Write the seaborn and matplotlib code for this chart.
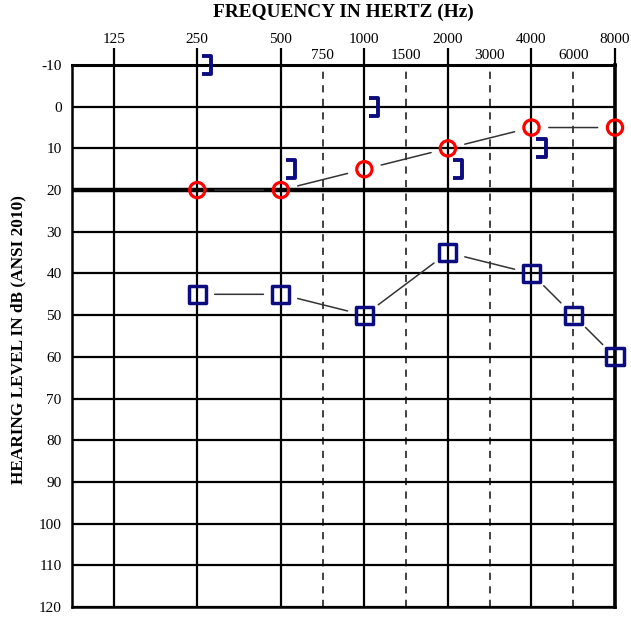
"""Audiogram: air and bone conduction thresholds."""

import matplotlib.pyplot as plt
import numpy as np
import pandas as pd
import seaborn as sns
from matplotlib.path import Path
from matplotlib.ticker import FixedLocator, NullFormatter

octave_freqs = [125, 250, 500, 1000, 2000, 4000, 8000]
mid_freqs = [750, 1500, 3000, 6000]
db_ticks = list(range(-10, 130, 10))

right_air_freq = [250, 500, 1000, 2000, 4000, 8000]
right_air_db = [20, 20, 15, 10, 5, 5]
left_air_freq = [250, 500, 1000, 2000, 4000, 6000, 8000]
left_air_db = [45, 45, 50, 35, 40, 50, 60]
bone_freq = [250, 500, 1000, 2000, 4000]
bone_db = [-10, 15, 0, 15, 10]

RED = "#ff0000"
NAVY = "#0c0c80"
LINK = "#333333"

sns.set_style("white")
plt.rcParams["font.family"] = ["Liberation Serif", "DejaVu Serif"]
plt.rcParams["axes.unicode_minus"] = False
plt.rcParams["text.color"] = "black"
plt.rcParams["xtick.color"] = "black"
plt.rcParams["ytick.color"] = "black"

# audiogram axis: octaves evenly spaced, inter-octave freqs drawn half way
knots = np.log2([62.5, 125, 250, 500, 750, 1000, 1500, 2000, 3000, 4000, 6000, 8000, 16000])
slots = np.array([-1, 0, 1, 2, 2.5, 3, 3.5, 4, 4.5, 5, 5.5, 6, 7])


def forward(f):
    return np.interp(np.log2(np.clip(f, 1e-9, None)), knots, slots)


def inverse(p):
    return 2 ** np.interp(p, slots, knots)


right_df = pd.DataFrame({"freq": right_air_freq, "db": right_air_db})
left_df = pd.DataFrame({"freq": left_air_freq, "db": left_air_db})
bone_df = pd.DataFrame({"freq": bone_freq, "db": bone_db})

fig = plt.figure(figsize=(6.31, 6.19), dpi=100)
ax = fig.add_axes([72 / 631, 1 - 607 / 619, (615 - 72) / 631, (607 - 65) / 619])
ax.set_xscale("function", functions=(forward, inverse))
ax.set_xlim(125 / 2 ** 0.5, 8000)
ax.set_ylim(120, -10)

# grid
ax.xaxis.set_major_locator(FixedLocator(octave_freqs))
ax.xaxis.set_minor_locator(FixedLocator(mid_freqs))
ax.xaxis.set_major_formatter(plt.FixedFormatter([str(f) for f in octave_freqs]))
ax.xaxis.set_minor_formatter(plt.FixedFormatter([str(f) for f in mid_freqs]))
ax.yaxis.set_major_locator(FixedLocator(db_ticks))
ax.yaxis.set_minor_formatter(NullFormatter())
ax.xaxis.set_ticks_position("top")
ax.xaxis.set_label_position("top")
ax.tick_params(axis="x", which="major", length=12, width=1.6, color="black",
               pad=1.5, labelsize=11, direction="out")
ax.tick_params(axis="x", which="minor", length=0, pad=2, labelsize=11)
ax.tick_params(axis="y", length=0, pad=7.5, labelsize=11)
ax.grid(axis="x", which="major", color="black", lw=1.6)
ax.grid(axis="x", which="minor", color="#333333", lw=1.3, ls=(0, (4, 3.5)))
ax.grid(axis="y", which="major", color="black", lw=1.6)
ax.axhline(20, color="black", lw=3.2, zorder=1)
ax.set_axisbelow(True)
for side, lw in {"top": 2.2, "left": 1.8, "right": 2.6, "bottom": 1.8}.items():
    ax.spines[side].set_visible(True)
    ax.spines[side].set_color("black")
    ax.spines[side].set_linewidth(lw)

# thin links between symbols, kept short of the markers
for df in (right_df, left_df):
    pts = list(zip(df["freq"], df["db"]))
    for (f1, d1), (f2, d2) in zip(pts[:-1], pts[1:]):
        ax.annotate("", xy=(f2, d2), xytext=(f1, d1),
                    arrowprops=dict(arrowstyle="-", color=LINK, lw=1.1,
                                    shrinkA=12.5, shrinkB=12.5))

# symbols
bracket = Path([(5, 9), (14, 9), (14, -9), (5, -9)],
               [Path.MOVETO, Path.LINETO, Path.LINETO, Path.LINETO])
sns.scatterplot(data=right_df, x="freq", y="db", ax=ax, marker="o", s=121,
                color=RED, facecolor="none", edgecolor=RED, linewidth=2.3, zorder=5)
sns.scatterplot(data=left_df, x="freq", y="db", ax=ax, marker="s", s=150,
                color=NAVY, facecolor="none", edgecolor=NAVY, linewidth=2.5, zorder=5)
sns.scatterplot(data=bone_df, x="freq", y="db", ax=ax, marker=bracket, s=410,
                color=NAVY, facecolor="none", edgecolor=NAVY, linewidth=2.8, zorder=5)
for coll in ax.collections:
    coll.set_clip_on(False)

ax.set_xlabel("")
ax.set_ylabel("")
fig.text((72 + 615) / 2 / 631, 1 - 12 / 619, "FREQUENCY IN HERTZ (Hz)",
         ha="center", va="center", fontsize=13.9, fontweight="bold")
fig.text(18 / 631, 1 - 340 / 619, "HEARING LEVEL IN dB (ANSI 2010)",
         ha="center", va="center", rotation=90, fontsize=12.4, fontweight="bold")

fig.savefig("out.png", dpi=100)
